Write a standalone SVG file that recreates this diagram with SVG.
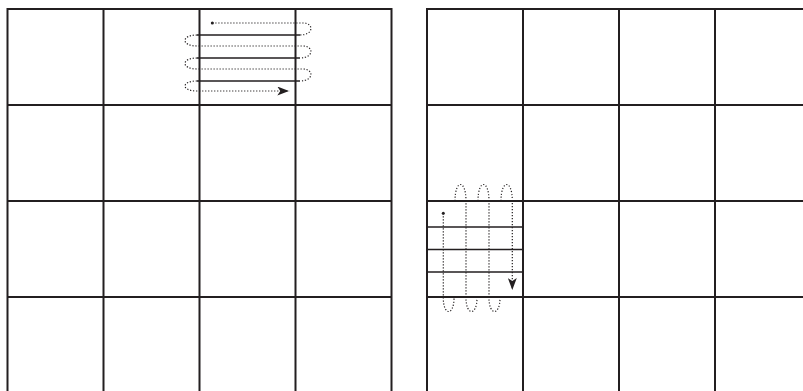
<svg xmlns="http://www.w3.org/2000/svg" width="803" height="391" viewBox="0 0 803 391">
<style>
.grid{stroke:#231f20;stroke-width:2;fill:none}
.sub{stroke:#231f20;stroke-width:1.3;fill:none}
.dot{stroke:#231f20;stroke-width:1.2;fill:none;stroke-dasharray:1.2 1.8}
</style>
<defs>
<marker id="ah" viewBox="0 0 12 9" refX="12" refY="4.5" markerWidth="12" markerHeight="9" markerUnits="userSpaceOnUse" orient="auto">
<path d="M0,0 L12,4.5 L0,9 L3,4.5 z" fill="#231f20"/>
</marker>
</defs>
<rect width="803" height="391" fill="#fff"/>
<g id="grid-left" class="grid">
<path d="M7.5,392V9H391.5V392M103.5,9V392M199.5,9V392M295.5,9V392M7.5,105H391.5M7.5,201H391.5M7.5,297H391.5"/>
</g>
<g id="grid-right" class="grid">
<path d="M427,392V9H804M523,9V392M619,9V392M715,9V392M427,105H804M427,201H804M427,297H804"/>
</g>
<g id="scan-left">
<path class="sub" d="M197,35H300M197,58H300M197,81H300"/>
<circle cx="212.3" cy="23" r="1.5" fill="#231f20"/>
<g class="dot">
<path d="M212.3,23H303C314,23 314,35 300,35"/>
<path d="M197,35C181,35 181,46 197,46H303C314,46 314,58 300,58"/>
<path d="M197,58C181,58 181,69 197,69H303C314,69 314,81 300,81"/>
<path d="M197,81C181,81 181,91 197,91H289.3" marker-end="url(#ah)"/>
</g>
</g>
<g id="scan-right">
<path class="sub" d="M427,227H523M427,249.5H523M427,272H523"/>
<circle cx="443.3" cy="213.3" r="1.5" fill="#231f20"/>
<g class="dot">
<path d="M443.3,213.3V298C443.3,316 454,316 454,298"/>
<path d="M455,201C455,179 466,179 466,201V298C466,316 477,316 477,298"/>
<path d="M478,201C478,179 489,179 489,201V298C489,316 500,316 500,298"/>
<path d="M501,201C501,179 512.3,179 512.3,201V290" marker-end="url(#ah)"/>
</g>
</g>
</svg>
